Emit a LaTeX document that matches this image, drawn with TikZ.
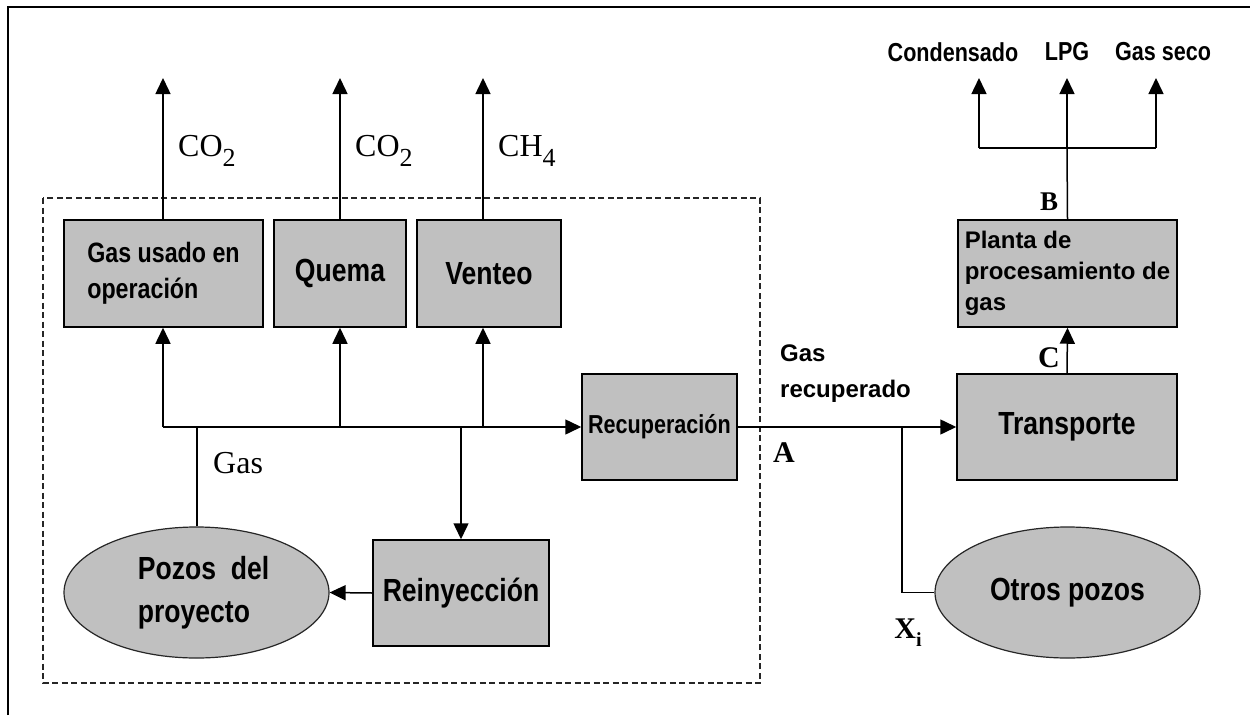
\documentclass[tikz,border=0pt]{standalone}
\usepackage{fontspec}
\setmainfont{Liberation Serif}
\newfontfamily\narrowf{Liberation Sans}[FakeStretch=0.83]
\newfontfamily\arialf{Liberation Sans}
\usetikzlibrary{shapes.geometric,arrows.meta}
\definecolor{boxgray}{HTML}{C0C0C0}
\newcommand\mysubs[1]{\raisebox{-10pt}{\fontsize{26}{26}\selectfont #1}}
\begin{document}
\begin{tikzpicture}[x=1pt,y=-1pt,
  box/.style={draw, line width=1.5pt, fill=boxgray, inner sep=0pt,
    font=\narrowf\bfseries\fontsize{32}{36}\selectfont},
  oval/.style={ellipse, draw=black!85, line width=1.2pt, fill=boxgray, inner sep=0pt,
    font=\narrowf\bfseries\fontsize{32}{43}\selectfont},
  arr/.style={line width=1.5pt, -{Triangle[length=16pt,width=15pt]}},
  ln/.style={line width=1.5pt},
  chem/.style={inner sep=0pt, anchor=base west, font=\fontsize{32}{36}\selectfont},
  pt/.style={inner sep=0pt, font=\bfseries\fontsize{30}{30}\selectfont},
  outl/.style={inner sep=0pt, font=\narrowf\bfseries\fontsize{26}{30}\selectfont}
]
\useasboundingbox (0,0) rectangle (1250,715);
% outer frame
\draw[line width=1.6pt] (8,715) -- (8,7) -- (1250,7);
% dashed project boundary
\draw[line width=1.2pt, dash pattern=on 6pt off 3.5pt, black!85] (43,198) rectangle (760,683);

% boxes
\node[box, minimum width=199, minimum height=107, align=left,
      font=\narrowf\bfseries\fontsize{28}{36}\selectfont] (gu) at (163.5,273.5) {Gas usado en\\operación};
\node[box, minimum width=132, minimum height=107] (qu) at (340,273.5) {Quema};
\node[box, minimum width=144, minimum height=107] (ve) at (489,273.5) {Venteo};
\node[box, minimum width=155, minimum height=106,
      font=\narrowf\bfseries\fontsize{26}{30}\selectfont] (rec) at (659.5,427) {Recuperación};
\node[box, minimum width=176, minimum height=106] (rei) at (461,593) {Reinyección};
\node[box, minimum width=220, minimum height=106] (tr) at (1067,427) {\raisebox{5pt}{Transporte}};
\node[box, minimum width=219, minimum height=107, align=left,
      font=\arialf\bfseries\fontsize{24}{31}\selectfont] (pl) at (1067.5,273.5) {Planta de\\procesamiento de\\gas};
\node[oval, minimum width=265, minimum height=131, align=left] (po) at (196.5,592.5)
      {\hspace*{14pt}Pozos\ \ del\\\hspace*{14pt}proyecto};
\node[oval, minimum width=265, minimum height=131] (ot) at (1067.5,592.5) {Otros pozos};

% junction coordinates
\coordinate (jl) at (163,427);
\coordinate (c1) at (163,78);
\coordinate (c2) at (340,78);
\coordinate (c3) at (483,78);
\coordinate (jp) at (197,427);
\coordinate (jx) at (902,427);
\coordinate (jb) at (1067,148);
\coordinate (t1) at (979,78);
\coordinate (t2) at (1067,78);
\coordinate (t3) at (1156,78);

% emissions
\draw[arr] (gu.north -| c1) -- (c1);
\draw[arr] (qu.north -| c2) -- (c2);
\draw[arr] (ve.north -| c3) -- (c3);
\node[chem] (l1) at (178,156) {CO\mysubs{2}};
\node[chem] (l2) at (355,156) {CO\mysubs{2}};
\node[chem] (l3) at (498,156) {CH\mysubs{4}};

% gas distribution
\draw[ln] (po.north -| jp) -- (jp);
\node[chem] (lg) at (213,473) {Gas};
\draw[arr] (jl) -- (rec.west);
\draw[arr] (jl) -- (gu.south -| jl);
\draw[arr] (qu.south |- jl) -- (qu.south);
\draw[arr] (c3 |- jl) -- (ve.south -| c3);
\draw[arr] (rei.north |- jl) -- (rei.north);
\draw[arr] (rei.west) -- (po.east);

% recovered gas
\draw[arr] (rec.east) -- (tr.west);
\draw[ln] (jx) |- (ot.west);
\node[inner sep=0pt, anchor=west, align=left, font=\arialf\bfseries\fontsize{24}{36}\selectfont] (lr) at (780,374) {Gas\\recuperado};
\node[pt] (la) at (784,453) {A};
\node[pt] (lx) at (908,633) {X\raisebox{-8pt}{\fontsize{20}{20}\selectfont i}};
\draw[arr] (tr.north) -- (pl.south);
\node[pt] (lc) at (1049,358) {C};
\node[pt, font=\bfseries\fontsize{27}{27}\selectfont] (lb) at (1049,202) {B};

% products
\draw[ln] (pl.north) -- (jb);
\draw[ln] (t1 |- jb) -- (t3 |- jb);
\draw[arr] (t1 |- jb) -- (t1);
\draw[arr] (jb) -- (t2);
\draw[arr] (t3 |- jb) -- (t3);
\node[outl] (pc) at (953,52) {Condensado};
\node[outl] (pg) at (1067,52) {LPG};
\node[outl] (ps) at (1163,52) {Gas seco};
\end{tikzpicture}
\end{document}
